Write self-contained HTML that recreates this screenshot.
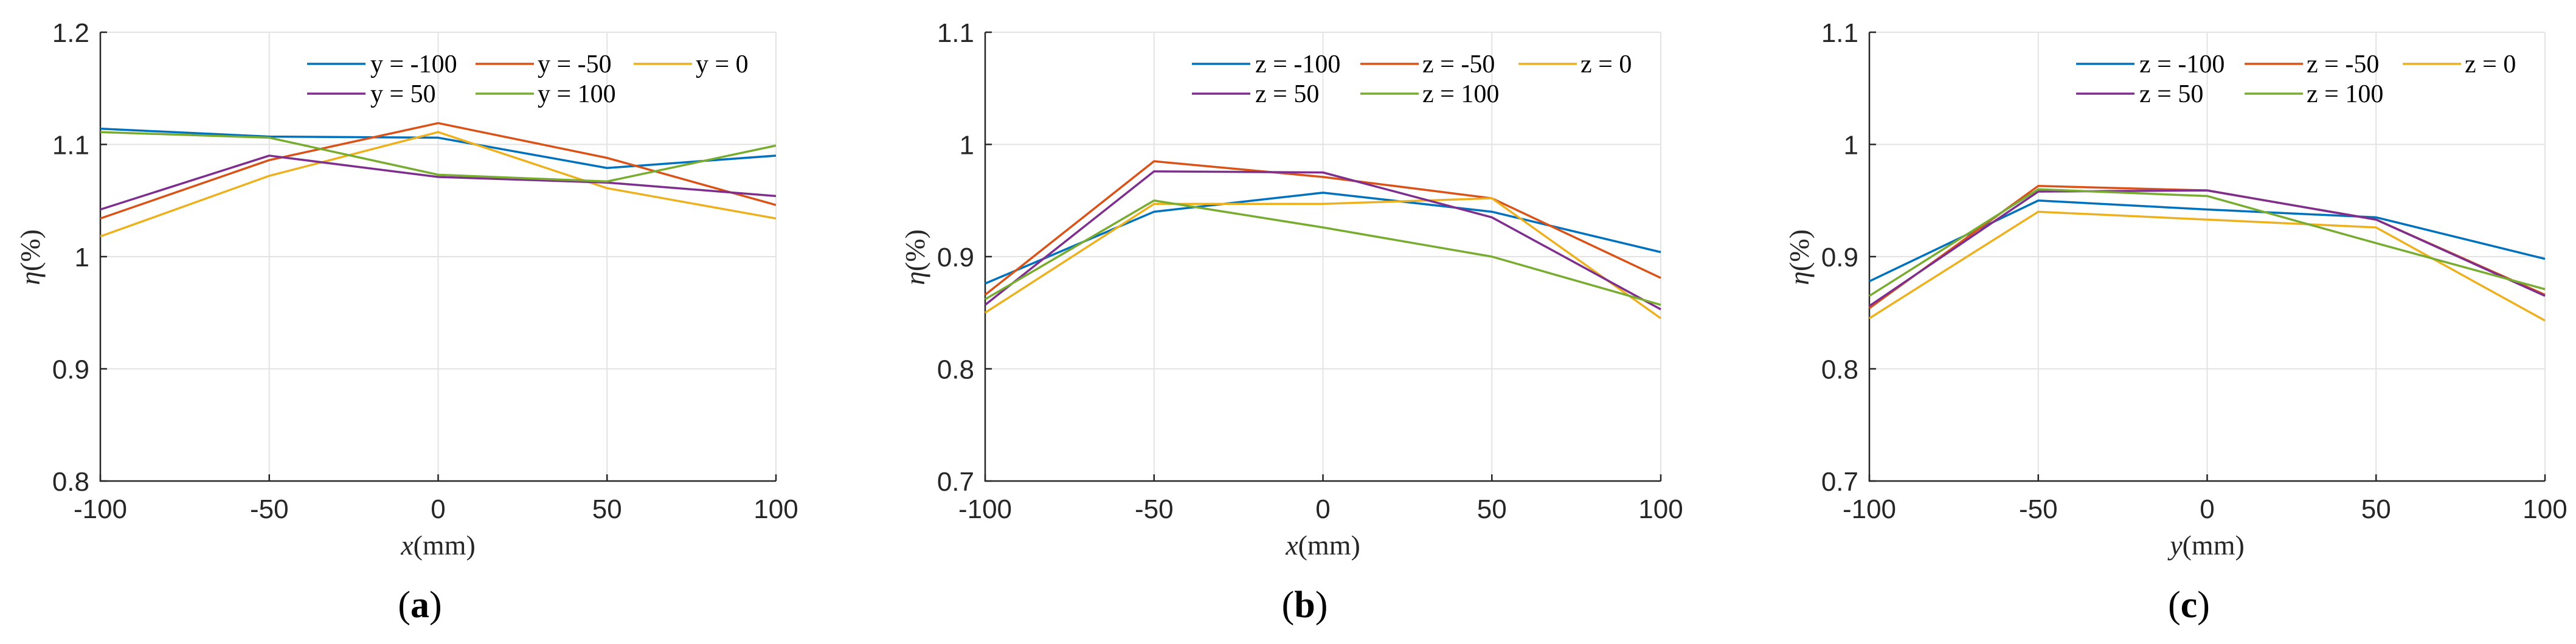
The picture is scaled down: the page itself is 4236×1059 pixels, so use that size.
<!DOCTYPE html>
<html><head><meta charset="utf-8"><style>
html,body{margin:0;padding:0;background:#fff;}
svg{display:block;}
</style></head><body>
<svg id="fig" width="4236" height="1059" viewBox="0 0 4236 1059" xmlns="http://www.w3.org/2000/svg"></svg>
<script>
const xCats = [-100, -50, 0, 50, 100];
const colors = ['#0072BD','#D95319','#EDB120','#7E2F8E','#77AC30'];
const legendA = ['y = -100','y = -50','y = 0','y = 50','y = 100'];
const legendZ = ['z = -100','z = -50','z = 0','z = 50','z = 100'];
const xTickLabels = ['-100','-50','0','50','100'];
const yTicksA = [0.8, 0.9, 1.0, 1.1, 1.2];
const yTickLabelsA = ['0.8','0.9','1','1.1','1.2'];
const yTicksB = [0.7, 0.8, 0.9, 1.0, 1.1];
const yTickLabelsB = ['0.7','0.8','0.9','1','1.1'];
const a_ym100 = [1.114, 1.107, 1.106, 1.079, 1.090];
const a_ym50  = [1.034, 1.086, 1.119, 1.088, 1.046];
const a_y0    = [1.018, 1.072, 1.111, 1.061, 1.034];
const a_y50   = [1.042, 1.090, 1.071, 1.066, 1.054];
const a_y100  = [1.111, 1.106, 1.073, 1.067, 1.099];
const b_zm100 = [0.876, 0.940, 0.957, 0.940, 0.904];
const b_zm50  = [0.866, 0.985, 0.971, 0.952, 0.881];
const b_z0    = [0.850, 0.947, 0.947, 0.952, 0.845];
const b_z50   = [0.857, 0.976, 0.975, 0.935, 0.853];
const b_z100  = [0.862, 0.950, 0.926, 0.900, 0.857];
const c_zm100 = [0.878, 0.950, 0.942, 0.935, 0.898];
const c_zm50  = [0.854, 0.963, 0.959, 0.933, 0.866];
const c_z0    = [0.845, 0.940, 0.933, 0.926, 0.843];
const c_z50   = [0.856, 0.958, 0.959, 0.933, 0.865];
const c_z100  = [0.865, 0.960, 0.954, 0.912, 0.871];

const NS='http://www.w3.org/2000/svg';
const svg=document.getElementById('fig');
function mk(tag,attrs,parent){const e=document.createElementNS(NS,tag);for(const k in attrs)e.setAttribute(k,attrs[k]);(parent||svg).appendChild(e);return e;}

function panel(cfg){
  const g=mk('g',{});
  
  
  const L=cfg.left, R=cfg.left+1111, T=53, B=791;
  const xs=v=>L+(v-xCats[0])/(xCats[xCats.length-1]-xCats[0])*(R-L);
  const ys=v=>B-(v-cfg.yTicks[0])/(cfg.yTicks[cfg.yTicks.length-1]-cfg.yTicks[0])*(B-T);
  xCats.forEach((c,i)=>{
    const l=mk('line',{x1:xs(c),x2:xs(c),y1:T,y2:B,stroke:'#e3e3e3','stroke-width':2},g);
    
    
  });
  cfg.yTicks.forEach(v=>{
    const l=mk('line',{x1:L,x2:R,y1:ys(v),y2:ys(v),stroke:'#e3e3e3','stroke-width':2},g);
    
    
  });
  const ax=mk('path',{d:`M${L},${T} L${L},${B} L${R},${B}`,stroke:'#262626','stroke-width':2.5,fill:'none'},g);
  
  
  xCats.forEach((c,i)=>{
    mk('line',{x1:xs(c),x2:xs(c),y1:B,y2:B-11,stroke:'#262626','stroke-width':2.5},g);
    const t=mk('text',{x:xs(c),y:852,'font-family':'Liberation Sans, sans-serif','font-size':44,'text-anchor':'middle',fill:'#262626'},g);
    t.textContent=xTickLabels[i];
    
    
  });
  cfg.yTicks.forEach((v,i)=>{
    mk('line',{x1:L,x2:L+11,y1:ys(v),y2:ys(v),stroke:'#262626','stroke-width':2.5},g);
    const t=mk('text',{x:L-18,y:ys(v)+16,'font-family':'Liberation Sans, sans-serif','font-size':44,'text-anchor':'end',fill:'#262626'},g);
    t.textContent=cfg.yLabels[i];
    
    
  });
  cfg.series.forEach((s,i)=>{
    const p=mk('polyline',{points:s.map((v,j)=>xs(xCats[j])+','+ys(v)).join(' '),stroke:colors[i],'stroke-width':3.5,fill:'none','stroke-linejoin':'round'},g);
    
    
  });
  const lx=[[340,444],[617,719],[877,979]];
  cfg.legend.forEach((lab,i)=>{
    const col=i<3?i:i-3, row=i<3?0:1;
    const y=105+row*49;
    const eg=mk('g',{},g);
    
    
    mk('line',{x1:L+lx[col][0],x2:L+lx[col][0]+96,y1:y,y2:y,stroke:colors[i],'stroke-width':3.5},eg);
    const t=mk('text',{x:L+lx[col][1],y:y+14,'font-family':'Liberation Serif, serif','font-size':42,fill:'#000'},eg);
    t.textContent=lab;
  });
  const yl=mk('text',{x:0,y:0,transform:`translate(${L-100},423) rotate(-90)`,'font-family':'Liberation Serif, serif','font-size':46,'text-anchor':'middle',fill:'#262626'},g);
  yl.innerHTML='<tspan font-style="italic">η</tspan>(%)';
  
  
  const xl=mk('text',{x:(L+R)/2,y:912,'font-family':'Liberation Serif, serif','font-size':46,'text-anchor':'middle',fill:'#262626'},g);
  xl.innerHTML='<tspan font-style="italic">'+cfg.xvar+'</tspan>(mm)';
  
  
  const cap=mk('text',{x:(L+R)/2-30,y:1015,'font-family':'Liberation Serif, serif','font-size':62,'text-anchor':'middle',fill:'#000'},g);
  cap.innerHTML='(<tspan font-weight="bold">'+cfg.cap+'</tspan>)';
  
  
}
panel({name:'panel-a',left:165,yTicks:yTicksA,yLabels:yTickLabelsA,series:[a_ym100,a_ym50,a_y0,a_y50,a_y100],legend:legendA,xvar:'x',cap:'a'});
panel({name:'panel-b',left:1620,yTicks:yTicksB,yLabels:yTickLabelsB,series:[b_zm100,b_zm50,b_z0,b_z50,b_z100],legend:legendZ,xvar:'x',cap:'b'});
panel({name:'panel-c',left:3074,yTicks:yTicksB,yLabels:yTickLabelsB,series:[c_zm100,c_zm50,c_z0,c_z50,c_z100],legend:legendZ,xvar:'y',cap:'c'});
</script>
</body></html>
